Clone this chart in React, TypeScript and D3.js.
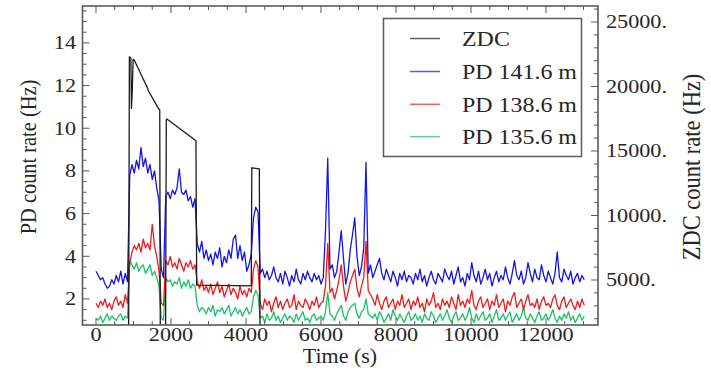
import React from "react";
import * as d3 from "d3";

const WIDTH = 711;
const HEIGHT = 385;

// PD samples are taken every 60 s starting at t = 0
const TIME_START = 0;
const TIME_STEP = 60;

// PD 141.6 m count rate (Hz)
const pd141 = [
  3.3, 3.1, 2.9, 3.0, 2.7, 2.5, 2.6, 2.9, 2.7, 3.1,
  2.8, 3.3, 2.7, 3.2, 2.8, 7.8, 8.3, 7.9, 8.5, 8.1,
  9.1, 8.2, 8.6, 7.9, 8.3, 7.6, 8.0, 7.2, 6.6, 3.4,
  3.0, 6.8, 7.0, 6.7, 7.1, 6.9, 7.2, 8.1, 7.0, 6.9,
  7.1, 6.6, 6.8, 6.3, 6.7, 4.6, 4.2, 4.7, 3.9, 4.3,
  3.8, 4.1, 3.6, 4.2, 3.9, 4.4, 3.5, 4.0, 3.7, 4.3,
  3.9, 4.8, 5.0, 3.9, 4.5, 3.8, 4.2, 3.3, 3.6, 4.1,
  5.8, 6.3, 6.1, 3.2, 3.4, 3.0, 3.3, 2.9, 3.1, 3.5,
  3.0, 2.8, 3.2, 2.7, 3.3, 3.0, 2.6, 3.1, 2.8, 3.4,
  2.9, 2.7, 3.2, 2.9, 3.3, 3.0, 2.8, 3.2, 2.9, 3.1,
  2.7, 3.0, 5.2, 8.6, 3.4, 3.6, 3.0, 3.3, 4.2, 5.2,
  3.9, 2.7, 3.2, 4.3, 5.0, 5.8, 4.0, 3.1, 3.5, 4.4,
  8.4, 3.2, 3.6, 3.0, 3.3, 3.6, 3.9, 3.2, 2.9, 3.4,
  3.1, 2.8, 3.3, 3.0, 2.6, 3.2, 2.9, 3.3, 2.8, 3.1,
  3.0, 2.7, 3.2, 2.9, 3.4, 2.8, 3.1, 2.6, 3.0, 3.3,
  2.9, 2.7, 3.2, 3.0, 2.8, 3.4, 3.1, 2.9, 3.3, 2.7,
  3.1, 3.5, 2.8, 3.0, 2.6, 3.2, 2.9, 3.7, 3.1, 2.8,
  3.3, 2.7, 3.0, 3.4, 2.9, 3.2, 2.6, 3.0, 3.3, 2.8,
  3.1, 2.9, 3.5, 3.0, 2.7, 3.2, 3.8, 3.1, 2.9, 3.3,
  2.7, 3.0, 3.7, 3.2, 2.8, 3.4, 3.0, 2.9, 3.6, 3.1,
  2.8, 3.3, 3.0, 2.7, 3.2, 4.2, 3.0, 2.8, 3.4, 3.1,
  2.9, 3.3, 2.7, 3.0, 3.2, 2.8, 3.1, 2.9,
];

// PD 138.6 m count rate (Hz)
const pd138 = [
  1.8, 1.6, 1.9, 1.7, 2.0, 1.6, 1.8, 1.5, 1.9, 2.1,
  1.7, 1.9, 1.6, 2.2, 1.8, 3.7, 4.2, 4.5, 4.3, 4.6,
  4.2, 4.8, 4.4, 4.6, 4.3, 5.5, 4.5, 4.0, 3.3, 1.8,
  1.7, 3.8, 3.6, 4.0, 3.5, 3.7, 3.4, 3.9, 3.6, 3.3,
  3.7, 3.5, 3.8, 3.4, 3.6, 2.8, 2.5, 2.9, 2.4, 2.6,
  2.3, 2.7, 2.2, 2.5, 2.8, 2.3, 2.6, 2.1, 2.4, 2.7,
  2.2, 2.5, 2.3, 2.0, 2.6, 2.2, 2.4, 2.1, 2.5, 2.3,
  3.4, 3.8, 3.5, 1.8, 1.5, 2.0, 1.7, 1.9, 1.4, 1.8,
  2.1, 1.6, 1.9, 1.5, 1.8, 2.0, 1.6, 1.7, 2.2, 1.5,
  1.9, 1.7, 1.6, 2.0, 1.8, 1.5, 1.9, 1.7, 2.1, 1.6,
  1.8, 1.9, 2.6, 4.6, 2.3, 2.5, 2.0, 2.4, 2.9, 3.6,
  2.6, 1.9, 2.3, 2.8, 3.1, 3.4, 2.5, 2.1, 2.6, 3.0,
  4.7, 2.4, 2.2, 2.0, 1.7, 2.2, 1.8, 1.5, 1.9, 2.1,
  1.6, 1.8, 2.0, 1.5, 1.9, 1.7, 2.2, 1.6, 1.8, 2.0,
  1.5, 1.9, 1.7, 2.1, 1.6, 1.8, 1.4, 2.0, 1.7, 1.9,
  2.3, 1.6, 1.8, 1.5, 2.0, 1.7, 1.9, 1.6, 2.1, 1.8,
  1.5, 2.2, 1.7, 1.9, 1.6, 2.0, 1.8, 2.4, 1.7, 1.5,
  1.9, 2.1, 1.6, 1.8, 2.0, 1.5, 1.9, 1.7, 2.2, 1.6,
  1.8, 2.0, 1.4, 1.9, 1.7, 2.1, 2.3, 1.6, 1.8, 2.0,
  1.5, 1.9, 2.2, 1.7, 1.8, 1.6, 2.0, 1.5, 1.9, 2.1,
  1.7, 1.8, 1.6, 2.0, 2.2, 1.7, 1.5, 1.9, 2.1, 1.6,
  1.8, 2.0, 1.7, 1.5, 1.9, 1.6, 2.0, 1.7,
];

// PD 135.6 m count rate (Hz)
const pd135 = [
  1.1, 1.0, 1.2, 0.9, 1.1, 1.3, 1.0, 1.2, 1.1, 1.0,
  1.2, 1.3, 1.0, 1.2, 1.1, 3.8, 3.6, 3.4, 3.7, 3.3,
  3.5, 3.6, 3.2, 3.4, 3.6, 3.1, 3.3, 3.0, 2.6, 1.1,
  1.0, 3.0, 2.8, 2.9, 2.6, 2.8, 2.7, 3.0, 2.5, 2.8,
  2.6, 2.9, 2.5, 2.7, 2.6, 1.7, 1.4, 1.6, 1.5, 1.3,
  1.6, 1.4, 1.7, 1.2, 1.5, 1.4, 1.6, 1.3, 1.5, 1.7,
  1.2, 1.4, 1.6, 1.3, 1.5, 1.2, 1.4, 1.6, 1.3, 1.4,
  2.1, 2.4, 2.2, 1.1, 1.2, 0.9, 1.3, 1.0, 1.1, 1.4,
  1.0, 1.2, 0.9, 1.1, 1.3, 1.0, 1.2, 1.1, 0.9, 1.3,
  1.0, 1.2, 1.4, 1.0, 1.1, 0.9, 1.2, 1.3, 1.0, 1.1,
  1.2, 1.0, 1.4, 2.3, 1.3, 1.2, 1.0, 1.3, 1.5, 1.7,
  1.2, 1.0, 1.4, 1.6, 1.7, 1.8, 1.3, 1.1, 1.4, 1.5,
  2.0, 1.3, 1.2, 1.1, 1.3, 1.0, 1.4, 1.2, 0.9, 1.1,
  1.3, 1.0, 1.5, 1.2, 1.0, 1.3, 1.1, 0.9, 1.2, 1.4,
  1.0, 1.1, 1.3, 1.0, 1.2, 0.9, 1.3, 1.1, 1.0, 1.4,
  1.2, 0.9, 1.1, 1.3, 1.0, 1.2, 1.5, 1.1, 0.9, 1.2,
  1.4, 1.0, 1.1, 1.3, 1.0, 1.2, 1.6, 1.1, 0.9, 1.3,
  1.0, 1.2, 1.4, 1.0, 1.1, 1.3, 0.9, 1.2, 1.5, 1.0,
  1.1, 1.3, 1.0, 1.2, 1.4, 0.9, 1.1, 1.3, 1.0, 1.2,
  1.6, 1.1, 1.0, 1.3, 1.1, 0.9, 1.2, 1.4, 1.0, 1.1,
  1.3, 1.0, 1.2, 1.5, 1.1, 0.9, 1.2, 1.0, 1.3, 1.1,
  1.4, 1.0, 1.2, 0.9, 1.1, 1.3, 1.0, 1.2,
];

// ZDC count rate (Hz) at its sample times (s)
const zdcTime = [
  0, 870, 890, 930, 945, 965, 990, 1020, 1385, 1400, 1680, 1700,
  1715, 1855, 1875, 1900, 2640, 2665, 2685, 4140, 4155, 4355, 4375, 13040,
];
const zdcRate = [
  300, 300, 22300, 22200, 18300, 19500, 22100, 22050, 19800, 19650, 18230, 18200,
  300, 300, 17450, 17460, 15850, 15800, 4600, 4550, 13700, 13620, 300, 300,
];

// Axis ticks and labels
const timeTicks = [0, 2000, 4000, 6000, 8000, 10000, 12000];
const pdTicks = [2, 4, 6, 8, 10, 12, 14];
const zdcTicks = [5000, 10000, 15000, 20000, 25000];
const zdcTickLabels = ["5000.", "10000.", "15000.", "20000.", "25000."];

const seriesNames = ["ZDC", "PD 141.6 m", "PD 138.6 m", "PD 135.6 m"];
const seriesColors = ["#1a1a1a", "#1414e6", "#ee1c1c", "#1fbf66"];

const FONT = "'Liberation Serif', 'Times New Roman', serif";
const TEXT_COLOR = "#262626";
const FRAME_COLOR = "#5a5a5a";

const frame = { left: 82.5, right: 598, top: 6, bottom: 325 };

export default function App() {
  const x = d3.scaleLinear().domain([-360, 13387]).range([frame.left, frame.right]);
  const yPD = d3.scaleLinear().domain([0.78, 15.73]).range([frame.bottom, frame.top]);
  const yZDC = d3.scaleLinear().domain([1512, 26240]).range([frame.bottom, frame.top]);

  const pdLine = d3
    .line<number>()
    .x((_, i) => x(TIME_START + i * TIME_STEP))
    .y((v) => yPD(v));
  const zdcLine = d3
    .line<number>()
    .x((_, i) => x(zdcTime[i]))
    .y((v) => yZDC(v));

  const timeMinor = d3.range(0, 13001, 500).filter((t) => t % 2000 !== 0);
  const pdMinor = d3.range(1, 15.6, 0.5).filter((v) => Math.abs(v % 2) > 1e-6);
  const zdcMinor = d3.range(2000, 26001, 1000).filter((v) => v % 5000 !== 0);

  const MAJOR = 7;
  const MINOR = 4;

  const pdSeries = [pd141, pd138, pd135];
  const drawOrder = [2, 1, 0];

  const legendRows = [38.5, 71.5, 104.3, 136.7];

  return (
    <svg
      width={WIDTH}
      height={HEIGHT}
      viewBox={`0 0 ${WIDTH} ${HEIGHT}`}
      style={{ position: "absolute", left: 0, top: 0, background: "#fff" }}
      fontFamily={FONT}
    >
      <defs>
        <clipPath id="plot-area">
          <rect
            x={frame.left}
            y={frame.top}
            width={frame.right - frame.left}
            height={frame.bottom - frame.top}
          />
        </clipPath>
      </defs>

      <rect width={WIDTH} height={HEIGHT} fill="#fff" />

      {/* series */}
      <g clipPath="url(#plot-area)" fill="none" strokeLinejoin="round">
        {drawOrder.map((k) => (
          <path
            key={k}
            d={pdLine(pdSeries[k]) || ""}
            stroke={seriesColors[k + 1]}
            strokeWidth={1.3}
          />
        ))}
        <path d={zdcLine(zdcRate) || ""} stroke={seriesColors[0]} strokeWidth={1.3} />
      </g>

      {/* frame */}
      <rect
        x={frame.left}
        y={frame.top}
        width={frame.right - frame.left}
        height={frame.bottom - frame.top}
        fill="none"
        stroke={FRAME_COLOR}
        strokeWidth={1.6}
      />

      {/* ticks on all four sides */}
      <g stroke={FRAME_COLOR} strokeWidth={1}>
        {timeTicks.map((t) => (
          <g key={`tm${t}`}>
            <line x1={x(t)} x2={x(t)} y1={frame.bottom} y2={frame.bottom - MAJOR} />
            <line x1={x(t)} x2={x(t)} y1={frame.top} y2={frame.top + MAJOR} />
          </g>
        ))}
        {timeMinor.map((t) => (
          <g key={`tn${t}`}>
            <line x1={x(t)} x2={x(t)} y1={frame.bottom} y2={frame.bottom - MINOR} />
            <line x1={x(t)} x2={x(t)} y1={frame.top} y2={frame.top + MINOR} />
          </g>
        ))}
        {pdTicks.map((v) => (
          <line key={`pm${v}`} x1={frame.left} x2={frame.left + MAJOR} y1={yPD(v)} y2={yPD(v)} />
        ))}
        {pdMinor.map((v) => (
          <line key={`pn${v}`} x1={frame.left} x2={frame.left + MINOR} y1={yPD(v)} y2={yPD(v)} />
        ))}
        {zdcTicks.map((v) => (
          <line key={`zm${v}`} x1={frame.right} x2={frame.right - MAJOR} y1={yZDC(v)} y2={yZDC(v)} />
        ))}
        {zdcMinor.map((v) => (
          <line key={`zn${v}`} x1={frame.right} x2={frame.right - MINOR} y1={yZDC(v)} y2={yZDC(v)} />
        ))}
      </g>

      {/* tick labels */}
      <g fill={TEXT_COLOR} fontSize={18.5}>
        {timeTicks.map((t) => (
          <text key={`tl${t}`} transform={`translate(${x(t)},341) scale(1.2,1)`} textAnchor="middle">
            {t}
          </text>
        ))}
        {pdTicks.map((v) => (
          <text key={`pl${v}`} transform={`translate(76,${yPD(v) + 6.3}) scale(1.2,1)`} textAnchor="end">
            {v}
          </text>
        ))}
        {zdcTicks.map((v, i) => (
          <text key={`zl${v}`} transform={`translate(606,${yZDC(v) + 6.3}) scale(1.2,1)`} textAnchor="start">
            {zdcTickLabels[i]}
          </text>
        ))}
      </g>

      {/* axis titles */}
      <g fill={TEXT_COLOR}>
        <text transform="translate(340,363) scale(1.1,1)" textAnchor="middle" fontSize={20}>
          Time (s)
        </text>
        <text transform="translate(36,157) scale(1.15,1) rotate(-90)" textAnchor="middle" fontSize={20.4}>
          PD count rate (Hz)
        </text>
        <text transform="translate(700,167) scale(1.15,1) rotate(-90)" textAnchor="middle" fontSize={22.5}>
          ZDC count rate (Hz)
        </text>
      </g>

      {/* legend */}
      <g>
        <rect x={383.5} y={18.5} width={198} height={138} fill="#fff" stroke={FRAME_COLOR} strokeWidth={1.5} />
        {seriesNames.map((name, i) => (
          <g key={name}>
            <line
              x1={410}
              x2={440}
              y1={legendRows[i]}
              y2={legendRows[i]}
              stroke={seriesColors[i]}
              strokeOpacity={0.7}
              strokeWidth={1.5}
            />
            <text
              transform={`translate(462,${legendRows[i] + 7.5}) scale(1.14,1)`}
              fill={TEXT_COLOR}
              fontSize={21}
            >
              {name}
            </text>
          </g>
        ))}
      </g>
    </svg>
  );
}
